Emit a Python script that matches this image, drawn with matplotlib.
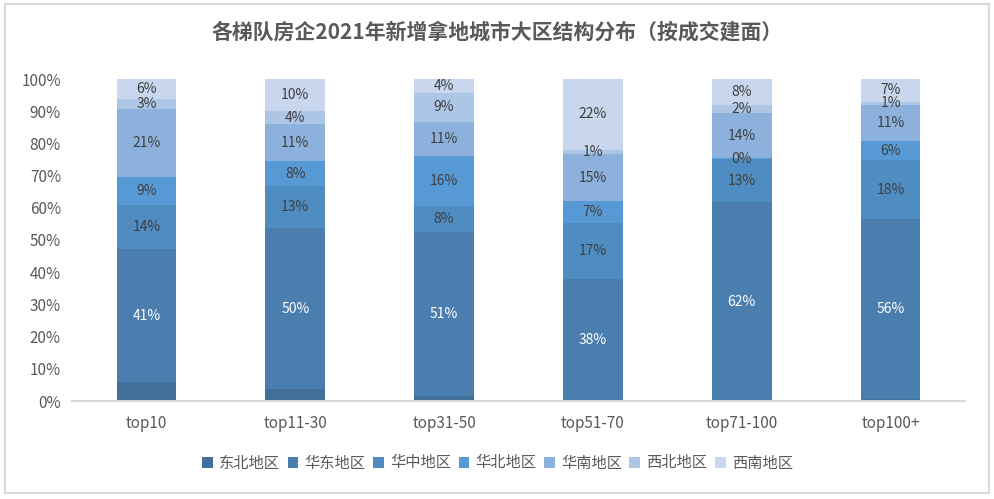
import matplotlib
matplotlib.use("Agg")
import matplotlib.pyplot as plt
from matplotlib.patches import Rectangle
import numpy as np

plt.rcParams['font.family'] = ['Noto Sans CJK SC', 'DejaVu Sans']

categories = ["top10", "top11-30", "top31-50", "top51-70", "top71-100", "top100+"]
regions = ["东北地区", "华东地区", "华中地区", "华北地区", "华南地区", "西北地区", "西南地区"]

dongbei = [5.9, 3.7, 1.6, 0.0, 0.0, 0.6]
huadong = [41.3, 50.0, 50.9, 37.9, 61.7, 55.9]
huazhong = [13.7, 13.1, 8.1, 17.4, 13.4, 18.3]
huabei = [8.7, 7.7, 15.6, 6.8, 0.3, 5.9]
huanan = [21.1, 11.4, 10.6, 14.6, 14.1, 11.2]
xibei = [3.1, 4.1, 9.0, 1.4, 2.4, 1.0]
xinan = [6.2, 10.0, 4.2, 21.9, 8.1, 7.1]

series = [dongbei, huadong, huazhong, huabei, huanan, xibei, xinan]
colors = ["#416F99", "#4A7EAF", "#4E8CC2", "#5799D5", "#8CB1DC", "#AEC6E6", "#C8D7ED"]
label_colors = [None, "white", "#404040", "#404040", "#404040", "#404040", "#404040"]

fig = plt.figure(figsize=(9.95, 4.99), dpi=100)
ax = fig.add_axes([72/995, 98/499, 893/995, 322/499])

x = np.arange(len(categories))
bottom = np.zeros(len(categories))
for vals, col, lc, name in zip(series, colors, label_colors, regions):
    v = np.array(vals) / 100.0
    ax.bar(x, v, 0.40, bottom=bottom, color=col, label=name, linewidth=0)
    if lc is not None:
        for xi, (b, h, raw) in enumerate(zip(bottom, v, vals)):
            ax.text(xi, b + h / 2, f"{raw:.0f}%", ha="center", va="center",
                    fontsize=10, color=lc)
    bottom = bottom + v

ax.set_xlim(-0.5, len(categories) - 0.5)
ax.set_ylim(0, 1.0)
ax.set_xticks(x)
ax.set_xticklabels(categories)
ax.set_yticks(np.arange(0, 1.01, 0.1))
ax.set_yticklabels([f"{int(round(t*100))}%" for t in np.arange(0, 1.01, 0.1)])
ax.tick_params(axis="both", length=0, labelsize=11, colors="#595959")
ax.tick_params(axis="x", pad=10)
ax.tick_params(axis="y", pad=8)
for s in ["top", "right", "left"]:
    ax.spines[s].set_visible(False)
ax.spines["bottom"].set_color("#D9D9D9")
ax.spines["bottom"].set_linewidth(1.5)

fig.text(0.5, 1 - 32/499, "各梯队房企2021年新增拿地城市大区结构分布（按成交建面）",
         ha="center", va="center", fontsize=15, color="#595959", fontweight="bold")

leg = fig.legend(loc="center", bbox_to_anchor=(0.5, 1 - 463/499), ncol=7, frameon=False,
                 fontsize=11, handlelength=0.7, handleheight=0.7, handletextpad=0.4,
                 columnspacing=0.5)
for t in leg.get_texts():
    t.set_color("#595959")

fig.patches.append(Rectangle((5/995, 1 - 493/499), 984/995, 489/499, transform=fig.transFigure,
                             fill=False, edgecolor="#D9D9D9", linewidth=1.5))

fig.savefig("out.png", dpi=100)
